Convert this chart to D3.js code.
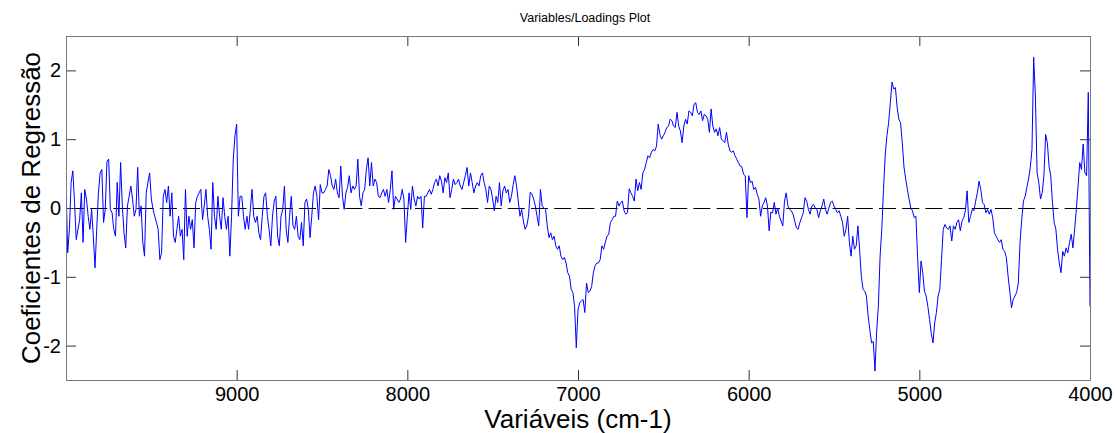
<!DOCTYPE html>
<html><head><meta charset="utf-8">
<script src="https://cdn.jsdelivr.net/npm/d3@7"></script>
<style>body{margin:0;background:#fff;} svg{display:block;}</style>
</head><body><svg id="c" width="1115" height="433"></svg>
<script>
// Wavenumber grid of the spectrum (cm-1)
const wnStart = 10000;
const wnStep = -10;
// Regression coefficients, one per wavenumber step
const coefValues = [
0.35,-0.65,-0.31,0.37,0.54,0.08,-0.46,-0.31,-0.17,0.22,
-0.5,0.27,0.13,-0.12,-0.31,-0.02,-0.41,-0.87,-0.31,0.22,
0.51,0.56,-0.21,-0.02,0.68,0.71,-0.02,-0.07,-0.31,-0.41,
0.37,-0.12,0.66,0.03,-0.36,-0.58,0.03,0.17,0.32,0.13,
-0.12,-0.02,0.59,-0.12,0.03,-0.5,-0.7,0.22,0.37,0.51,
0.13,-0.02,-0.12,-0.21,-0.31,-0.75,-0.65,0.17,0.27,0.08,
0.32,-0.12,0.22,-0.41,-0.5,-0.31,-0.12,-0.41,-0.31,-0.75,
0.27,-0.41,-0.12,-0.31,-0.17,-0.58,0.08,0.17,0.22,0.27,
-0.17,0.03,0.27,-0.12,-0.31,-0.6,0.37,-0.12,-0.31,0.17,
-0.12,-0.31,0.15,-0.12,-0.31,-0.12,-0.7,-0.12,0.71,1.05,
1.22,-0.12,0.17,0.17,-0.12,-0.31,-0.12,-0.31,-0.02,0.27,
-0.12,-0.21,-0.12,-0.36,-0.46,-0.12,0.17,0.22,-0.12,-0.31,
-0.55,-0.12,0.1,0.17,-0.41,-0.55,-0.12,-0.02,0.32,-0.31,
-0.5,-0.12,0.17,-0.26,-0.31,-0.12,-0.41,-0.46,-0.21,-0.55,
0.08,0.13,-0.02,-0.43,-0.12,0.22,0.32,0.17,-0.17,0.34,
0.22,0.22,0.27,0.32,0.56,0.47,0.32,0.27,0.42,0.22,
0.15,0.61,0.17,-0.02,0.22,0.3,0.47,0.22,0.32,0.27,
0.32,0.71,0.17,0.03,0.22,0.27,0.56,0.73,0.32,0.66,
0.32,0.42,0.37,0.17,0.15,0.22,0.27,0.17,0.27,0.08,
0.27,0.54,-0.02,0.17,0.13,0.08,0.13,0.27,0.13,-0.5,
-0.12,0.22,-0.02,0.32,0.13,0.03,0.17,0.13,0.17,-0.29,
0.17,0.17,0.22,0.27,0.2,0.27,0.37,0.42,0.32,0.47,
0.39,0.22,0.44,0.37,0.51,0.15,0.27,0.42,0.34,0.37,
0.42,0.32,0.27,0.37,0.47,0.59,0.32,0.51,0.37,0.22,
0.32,0.37,0.32,0.47,0.51,0.37,0.27,0.08,0.32,0.27,
0.13,-0.04,0.17,0.08,0.37,0.03,0.25,0.32,0.22,0.27,
0.08,0.17,0.34,0.47,0.32,0.1,-0.12,-0.02,-0.19,-0.31,
-0.26,-0.12,0.23,0.2,0.13,0.03,-0.12,-0.26,0.27,0.03,
0.0,-0.02,-0.26,-0.43,-0.36,-0.46,-0.41,-0.55,-0.6,-0.55,
-0.7,-0.75,-0.72,-0.8,-0.94,-0.99,-1.18,-1.23,-1.43,-2.03,
-1.48,-1.38,-1.35,-1.33,-1.52,-1.09,-1.23,-1.21,-1.14,-0.94,
-0.84,-0.8,-0.8,-0.75,-0.55,-0.6,-0.5,-0.41,-0.38,-0.21,
-0.17,-0.12,-0.12,0.1,0.03,0.08,0.1,-0.04,-0.09,-0.07,
0.28,0.22,0.17,0.1,0.42,0.25,0.37,0.27,0.51,0.56,
0.66,0.76,0.73,0.81,0.85,0.83,0.9,1.22,1.07,1.0,
1.05,1.1,1.17,1.19,1.29,1.27,1.19,1.17,1.39,1.19,
1.12,0.95,1.19,1.29,1.22,1.41,1.39,1.34,1.51,1.53,
1.39,1.36,1.41,1.27,1.36,1.34,1.29,1.1,1.44,1.19,
1.1,1.15,1.05,1.17,1.0,0.98,0.95,1.1,0.93,0.83,
0.81,0.83,0.76,0.71,0.66,0.61,0.6,0.49,0.47,-0.14,
0.47,0.37,0.39,0.27,0.3,0.2,0.13,-0.12,0.03,0.08,
0.15,0.03,-0.33,-0.06,-0.07,0.08,-0.09,0.0,-0.12,-0.19,
-0.26,0.1,0.22,0.03,-0.02,-0.04,-0.09,-0.19,-0.29,-0.31,
-0.21,-0.14,-0.07,0.15,0.1,-0.02,-0.09,0.03,0.05,0.0,
-0.02,-0.14,-0.04,0.03,0.13,-0.02,-0.09,0.0,0.08,0.1,
0.03,-0.02,-0.07,-0.04,-0.12,-0.21,-0.41,-0.31,-0.12,-0.5,
-0.7,-0.41,-0.6,-0.55,-0.26,-0.6,-0.99,-1.18,-1.21,-1.28,
-1.57,-1.77,-1.96,-1.94,-2.37,-1.79,-1.43,-0.7,-0.31,0.27,
0.76,1.05,1.24,1.53,1.83,1.73,1.75,1.46,1.29,1.24,
0.95,0.6,0.42,0.27,0.13,0.0,-0.04,-0.14,-0.12,-0.72,
-1.23,-0.77,-0.94,-1.21,-1.28,-1.43,-1.62,-1.82,-1.96,-1.67,
-1.52,-1.28,-1.18,-0.75,-0.31,-0.24,-0.29,-0.31,-0.26,-0.48,
-0.26,-0.31,-0.21,-0.17,-0.33,-0.19,-0.14,-0.04,0.25,-0.21,
-0.12,-0.02,-0.04,0.1,0.22,0.39,0.27,0.08,0.05,-0.07,
-0.02,-0.09,-0.02,-0.14,-0.36,-0.41,-0.46,-0.5,-0.46,-0.6,
-0.63,-0.72,-0.99,-1.21,-1.45,-1.33,-1.28,-1.23,-1.09,-0.5,
-0.17,0.1,0.17,0.3,0.42,0.59,0.85,2.19,1.63,0.51,
0.37,0.13,0.22,0.47,1.07,0.95,0.61,0.47,0.08,-0.21,
-0.31,-0.6,-0.8,-0.94,-0.63,-0.7,-0.58,-0.65,-0.5,-0.38,
-0.58,-0.31,-0.02,0.32,0.66,0.56,0.93,0.51,0.47,1.68,
-1.43
];
const xDomain = [10000, 4000];
const yDomain = [-2.5, 2.5];
const xTicks = [9000, 8000, 7000, 6000, 5000, 4000];
const yTicks = [-2, -1, 0, 1, 2];
const refLineValue = 0;
const titleText = "Variables/Loadings Plot";
const xLabel = "Variáveis (cm-1)";
const yLabel = "Coeficientes de Regressão";

const FONT = "'Liberation Sans', Arial, Helvetica, sans-serif";
const L = 66, R = 1090, T = 36, B = 380;
const svg = d3.select("#c");
const x = d3.scaleLinear().domain(xDomain).range([L, R]);
const y = d3.scaleLinear().domain(yDomain).range([B, T]);

svg.append("rect").attr("width", 1115).attr("height", 433).attr("fill", "#fff");

svg.append("defs").append("clipPath").attr("id", "clip")
  .append("rect").attr("x", L).attr("y", T).attr("width", R - L + 1).attr("height", B - T + 1);

// zero reference line
svg.append("line")
  .attr("x1", x(xDomain[0]) + 1).attr("x2", x(xDomain[1]))
  .attr("y1", Math.round(y(refLineValue)) + 0.5).attr("y2", Math.round(y(refLineValue)) + 0.5)
  .attr("stroke", "#000").attr("stroke-width", 1).attr("stroke-dasharray", "17,6.2");

// spectrum line
const line = d3.line()
  .x((d, i) => x(wnStart + i * wnStep))
  .y(d => y(d));
svg.append("path").datum(coefValues)
  .attr("clip-path", "url(#clip)")
  .attr("d", line).attr("fill", "none")
  .attr("stroke", "#0000ff").attr("stroke-width", 1).attr("stroke-linejoin", "round");

// axes
const fmt = d => String(d);
const gB = svg.append("g").attr("transform", `translate(0,${B})`)
  .call(d3.axisBottom(x).tickValues(xTicks).tickSize(-10).tickPadding(7).tickFormat(fmt));
const gT = svg.append("g").attr("transform", `translate(0,${T})`)
  .call(d3.axisTop(x).tickValues(xTicks).tickSize(-10).tickFormat(""));
const gL = svg.append("g").attr("transform", `translate(${L},0)`)
  .call(d3.axisLeft(y).tickValues(yTicks).tickSize(-10).tickPadding(5).tickFormat(fmt));
const gR = svg.append("g").attr("transform", `translate(${R},0)`)
  .call(d3.axisRight(y).tickValues(yTicks).tickSize(-10).tickFormat(""));
[gB, gT, gL, gR].forEach(g => {
  g.select(".domain").remove();
  g.selectAll(".tick line").attr("stroke", "#333");
  g.selectAll("text").attr("fill", "#000").style("font-family", FONT).style("font-size", "20px");
});

// frame
svg.append("rect").attr("x", L + 0.5).attr("y", T + 0.5)
  .attr("width", R - L).attr("height", B - T)
  .attr("fill", "none").attr("stroke", "#7a7a7a").attr("stroke-width", 1);

// titles
svg.append("text").attr("x", (L + R) / 2 + 7).attr("y", 22)
  .attr("text-anchor", "middle").style("font-family", FONT).style("font-size", "12.5px")
  .attr("fill", "#000").text(titleText);
svg.append("text").attr("x", (L + R) / 2).attr("y", 428)
  .attr("text-anchor", "middle").style("font-family", FONT).style("font-size", "26px")
  .attr("fill", "#000").text(xLabel);
svg.append("text").attr("transform", `translate(40,${(T + B) / 2}) rotate(-90)`)
  .attr("text-anchor", "middle").style("font-family", FONT).style("font-size", "26px")
  .attr("fill", "#000").text(yLabel);
</script></body></html>
